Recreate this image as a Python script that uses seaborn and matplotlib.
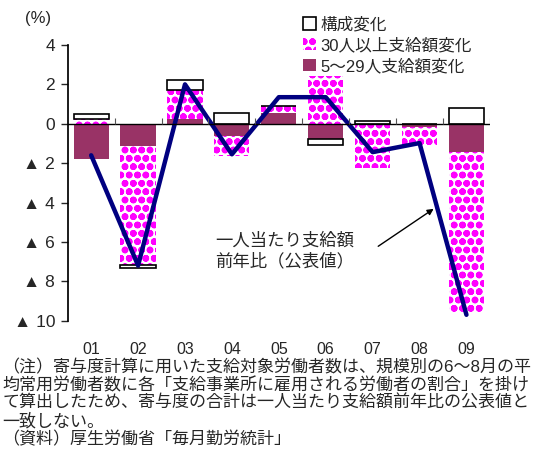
import numpy as np
import pandas as pd
import matplotlib
matplotlib.use('Agg')
import matplotlib.pyplot as plt
from matplotlib.patches import Patch
import seaborn as sns

# ---------------- data ----------------
months = ['01', '02', '03', '04', '05', '06', '07', '08', '09']
small_firms = [-1.8, -1.15, 0.25, -0.63, 0.54, -0.78, -0.05, -0.17, -1.44]   # 5~29人
large_firms = [0.25, -6.0, 1.47, -1.03, 0.34, 2.45, -2.18, -0.93, -8.15]     # 30人以上
composition = [0.25, -0.15, 0.5, 0.56, 0.0, -0.32, 0.12, 0.0, 0.79]         # 構成変化
published = [-1.6, -7.2, 2.0, -1.55, 1.35, 1.35, -1.44, -0.98, -9.7]        # 公表値

ytick_vals = [4, 2, 0, -2, -4, -6, -8, -10]
ytick_labels = ['4', '2', '0', '▲ 2', '▲ 4', '▲ 6', '▲ 8', '▲ 10']

notes = ['（注）寄与度計算に用いた支給対象労働者数は、規模別の6～8月の平',
         '均常用労働者数に各「支給事業所に雇用される労働者の割合」を掛け',
         'て算出したため、寄与度の合計は一人当たり支給額前年比の公表値と',
         '一致しない。',
         '（資料）厚生労働省「毎月勤労統計」']

sns.set_theme(style='white')
plt.rcParams['font.family'] = ['Liberation Sans', 'Noto Sans CJK JP']
plt.rcParams['hatch.linewidth'] = 2.4

# stacked bottoms, positives and negatives stacked separately
series = [np.array(small_firms), np.array(large_firms), np.array(composition)]
pos_base = np.zeros(len(months))
neg_base = np.zeros(len(months))
bottoms = []
for s in series:
    b = np.where(s >= 0, pos_base, neg_base)
    bottoms.append(b)
    pos_base = pos_base + np.where(s >= 0, s, 0)
    neg_base = neg_base + np.where(s < 0, s, 0)

df = pd.DataFrame({'month': months, 'small': small_firms, 'large': large_firms,
                   'comp': composition, 'line': published})

fig = plt.figure(figsize=(5.34, 4.54), dpi=100)
ax = fig.add_axes([0.1268, 0.2936, 0.7906, 0.6073])

sns.barplot(data=df, x='month', y='small', bottom=bottoms[0], color='#993366',
            width=0.75, linewidth=0, ax=ax, saturation=1)
sns.barplot(data=df, x='month', y='large', bottom=bottoms[1], color='white',
            edgecolor='#ff00ff', hatch='oo', width=0.75, linewidth=0, ax=ax,
            saturation=1)
sns.barplot(data=df, x='month', y='comp', bottom=bottoms[2], color='white',
            edgecolor='black', width=0.75, linewidth=1.2, ax=ax, saturation=1)

sns.lineplot(x=np.arange(len(months)), y=df['line'], color='#000080', lw=3.2,
             ax=ax)

ax.axhline(0, color='black', lw=1)
ax.vlines(np.arange(len(months)) + 0.5, 0, 0.3, color='#555555', lw=0.8)

ax.set_xlim(-0.5, len(months) - 0.5)
ax.set_ylim(-10, 4)
ax.set_yticks(ytick_vals)
ax.set_yticklabels(ytick_labels, fontsize=12.5)
ax.set_xticks(np.arange(len(months)))
ax.set_xticklabels(months, fontsize=11.5)
ax.tick_params(axis='x', length=0, pad=15)
ax.tick_params(axis='y', direction='out', length=5, width=1, left=True, pad=4)
for side in ['top', 'right', 'bottom']:
    ax.spines[side].set_visible(False)
ax.spines['left'].set_color('black')
ax.set_xlabel('')
ax.set_ylabel('')

ax.text(2.64, -6.45, '一人当たり支給額\n前年比（公表値）', fontsize=12.5,
        ha='left', va='center', linespacing=1.25)
ax.annotate('', xy=(7.35, -4.24), xytext=(6.07, -6.3),
            arrowprops=dict(arrowstyle='-|>', color='black', lw=1,
                            mutation_scale=9))

handles = [Patch(facecolor='white', edgecolor='black', lw=1.2),
           Patch(facecolor='white', edgecolor='#ff00ff', hatch='oo', lw=0),
           Patch(facecolor='#993366', lw=0)]
labels = ['構成変化', '30人以上支給額変化', '5～29人支給額変化']
fig.legend(handles, labels, loc='upper left', bbox_to_anchor=(0.555, 0.978),
           frameon=False, fontsize=12, handlelength=0.75, handleheight=0.75,
           handletextpad=0.3, labelspacing=0.3, borderaxespad=0)

fig.text(0.047, 0.96, '(%)', fontsize=12, ha='left', va='center')

for i, line in enumerate(notes):
    fig.text(0.004, 1 - (367 + 18 * i) / 454, line, fontsize=12.25,
             ha='left', va='center')

fig.savefig('out.png', dpi=100)
